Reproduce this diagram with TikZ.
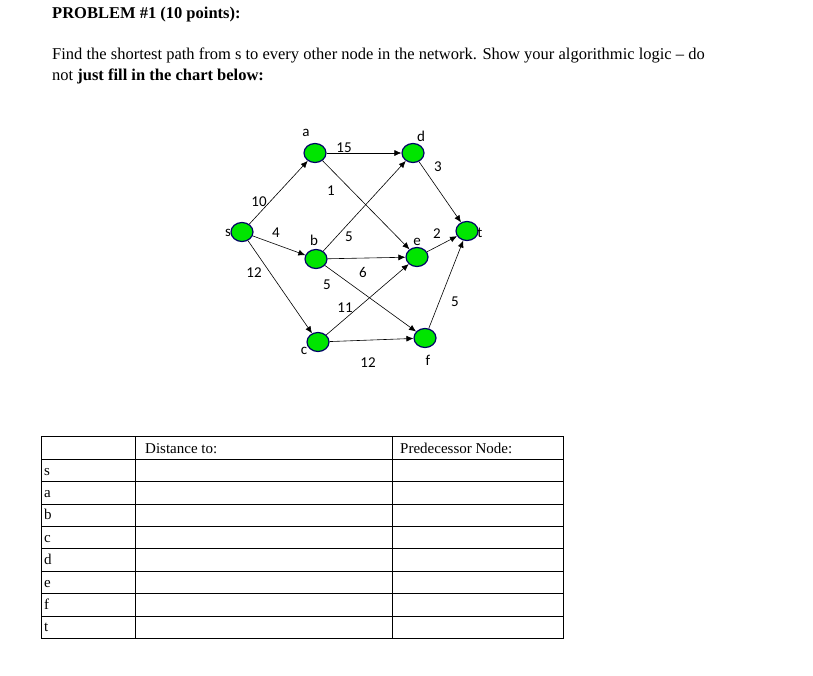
\documentclass[tikz,border=0pt]{standalone}
\usepackage{fontspec}
\setmainfont{Liberation Serif}
\newfontfamily\lab{Carlito}
\usetikzlibrary{arrows.meta,shapes.geometric}
\begin{document}
\begin{tikzpicture}[x=1pt,y=-1pt,
  vtx/.style={ellipse,draw=blue!40!black,line width=1.2pt,fill=green!90!black,minimum width=22pt,minimum height=19pt,inner sep=0pt},
  edge/.style={-{Latex[length=7pt,width=6pt]},line width=0.6pt},
  lbl/.style={font=\lab\fontsize{15}{15}\selectfont,inner sep=0pt},
  txt/.style={font=\fontsize{16.5}{18}\selectfont,anchor=base west,inner sep=0pt},
  cell/.style={font=\fontsize{15}{15}\selectfont,anchor=base west,inner sep=0pt}]
\useasboundingbox (0,0) rectangle (813,675);
\node[txt,font=\bfseries\fontsize{16.5}{18}\selectfont] (title) at (52,18) {PROBLEM \#1 (10 points):};
\node[txt] (l1) at (52,59) {Find the shortest path from s to every other node in the network. Show your algorithmic logic -- do};
\node[txt] (l2) at (52,80) {not \textbf{just fill in the chart below:}};
% nodes
\node[vtx] (s) at (242,232) {};
\node[vtx] (a) at (315,153) {};
\node[vtx] (d) at (413,153) {};
\node[vtx] (b) at (316,259) {};
\node[vtx] (e) at (417,257) {};
\node[vtx] (t) at (467,231) {};
\node[vtx] (c) at (318,342) {};
\node[vtx] (f) at (425,338) {};
% node labels
\node[lbl] (ls) at (228,233) {s};
\node[lbl] (la) at (306,133) {a};
\node[lbl] (ld) at (421,136) {d};
\node[lbl] (lt) at (480,233) {t};
\node[lbl] (lb) at (314,240) {b};
\node[lbl] (le) at (417,242) {e};
\node[lbl] (lc) at (304,351) {c};
\node[lbl] (lf) at (428,360) {f};
% edges
\draw[edge] (s) -- (a);
\draw[edge] (s) -- (b);
\draw[edge] (s) -- (c);
\draw[edge] (a) -- (d);
\draw[edge] (a) -- (e);
\draw[edge] (b) -- (d);
\draw[edge] (b) -- (e);
\draw[edge] (b) -- (f);
\draw[edge] (c) -- (e);
\draw[edge] (c) -- (f);
\draw[edge] (d) -- (t);
\draw[edge] (e) -- (t);
\draw[edge] (f) -- (t);
% weights
\node[lbl] (w1) at (344,148) {15};
\node[lbl] (w2) at (438,167) {3};
\node[lbl] (w3) at (259,202) {10};
\node[lbl] (w4) at (331,191) {1};
\node[lbl] (w5) at (276,233) {4};
\node[lbl] (w6) at (349,237) {5};
\node[lbl] (w7) at (437,234) {2};
\node[lbl] (w8) at (254,273) {12};
\node[lbl] (w9) at (363,272) {6};
\node[lbl] (w10) at (327,285) {5};
\node[lbl] (w11) at (345,308) {11};
\node[lbl] (w12) at (455,302) {5};
\node[lbl] (w13) at (368,363) {12};
% table
\draw[line width=0.6pt] (41,436) rectangle (563,638);
\foreach \y in {459,481.4,503.8,526.2,548.6,571,593.4,615.8} \draw[line width=0.6pt] (41,\y) -- (563,\y);
\draw[line width=0.6pt] (135,436) -- (135,638);
\draw[line width=0.6pt] (392,436) -- (392,638);
\node[cell] (h1) at (145,453) {Distance to:};
\node[cell] (h2) at (400,453) {Predecessor Node:};
\node[cell] (rs) at (44,475) {s};
\node[cell] (ra) at (44,497.4) {a};
\node[cell] (rb) at (44,519.8) {b};
\node[cell] (rc) at (44,542.2) {c};
\node[cell] (rd) at (44,564.6) {d};
\node[cell] (re) at (44,587) {e};
\node[cell] (rf) at (44,609.4) {f};
\node[cell] (rt) at (44,631.8) {t};
\end{tikzpicture}
\end{document}
